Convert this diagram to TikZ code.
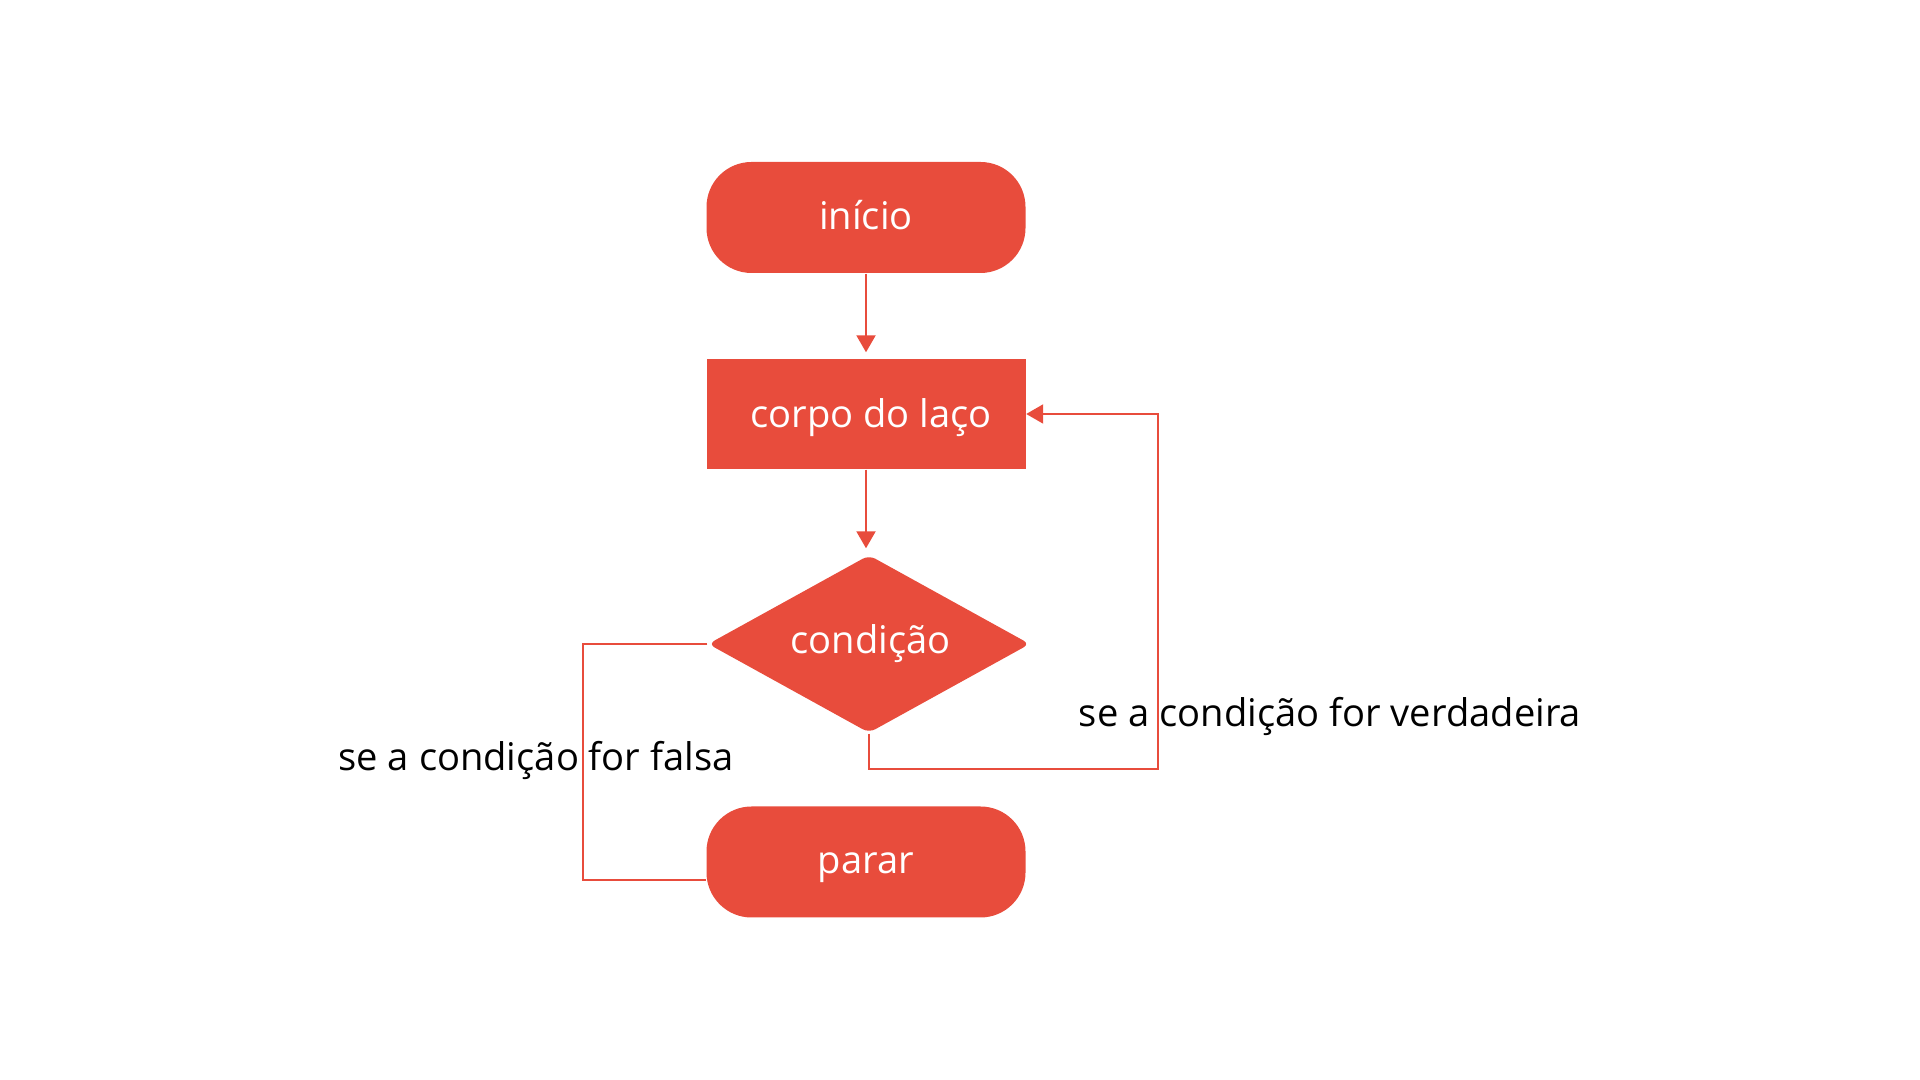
\documentclass[tikz,border=0pt]{standalone}
\usepackage{fontspec}
\setmainfont{Open Sans}
\usetikzlibrary{arrows.meta,shapes.geometric}
\definecolor{FlowClr}{rgb}{0.91,0.30,0.235}
\newcommand{\shiftlabel}[2]{\raisebox{#1}[\height][\depth]{#2}}

\begin{document}
\begin{tikzpicture}[
  txt/.style={font=\fontsize{10.85}{13}\selectfont},
  terminal/.style={txt,rectangle,rounded corners=0.45cm,fill=FlowClr,text=white,
    minimum width=3.19cm,minimum height=1.11cm,inner sep=0pt},
  process/.style={txt,rectangle,fill=FlowClr,text=white,
    minimum width=3.19cm,minimum height=1.10cm,inner sep=0pt},
  decision/.style={txt,diamond,aspect=1.8,rounded corners=2pt,fill=FlowClr,text=white,
    minimum width=3.22cm,minimum height=1.78cm,inner sep=0pt},
  link/.style={draw=FlowClr,line width=0.6pt},
  linkarrow/.style={link,-{Triangle[length=1.7mm,width=1.9mm]},shorten >=0.6mm},
  caption/.style={txt,text=black,inner sep=0pt}]

\useasboundingbox (0,0) rectangle (19.2,10.8);

\node[terminal] (start) at (8.66,8.625) {\shiftlabel{0.25mm}{início}};
\node[process]  (body)  at (8.66,6.66)  {\hspace{1mm}\shiftlabel{-0.4mm}{corpo do laço}};
\node[decision] (cond)  at (8.69,4.36)  {\hspace{0.3mm}condição};
\node[terminal] (stop)  at (8.66,2.18)  {\shiftlabel{-0.6mm}{parar}};

% bends of the two branches
\coordinate (F1) at (5.83,4.36);
\coordinate (F2) at (5.83,2.00);
\coordinate (T1) at (11.58,3.11);

\draw[linkarrow] (start) -- (body);
\draw[linkarrow] (body.south) -- (body.south |- cond.north);
\draw[link,-{Triangle[length=1.7mm,width=1.9mm]}] (cond.south) |- (T1) |- (body.east);
\draw[link] (cond.west) -- (F1) -- (F2) -- (F2 -| stop.west);

\node[caption] (truelbl)  at (13.30,3.64) {se a condição for verdadeira};
\node[caption] (falselbl) at (5.36,3.195) {se a condição for falsa};

\end{tikzpicture}
\end{document}
